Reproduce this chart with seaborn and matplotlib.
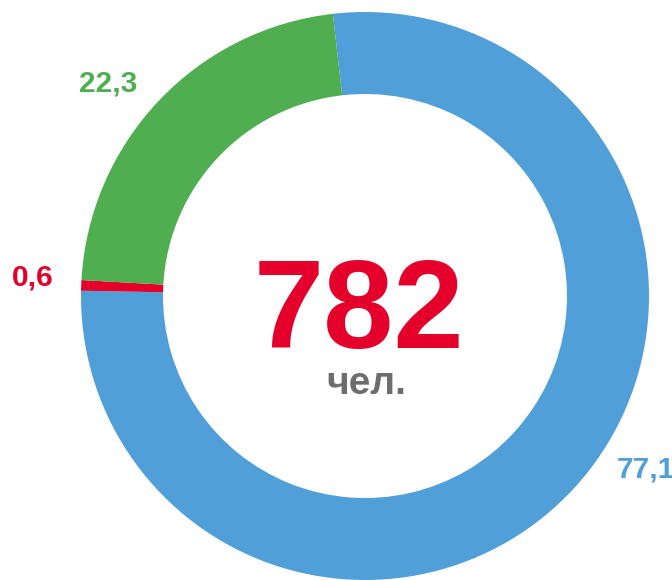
import seaborn as sns
import matplotlib.pyplot as plt

# shares, %
labels = ["77,1", "0,6", "22,3"]
shares = [77.1, 0.6, 22.3]
colors = ["#519fd8", "#e4002b", "#4fae50"]
total = "782"
unit = "чел."

sns.set_theme(style="white")
plt.rcParams["font.family"] = ["Liberation Sans", "DejaVu Sans"]

fig = plt.figure(figsize=(6.72, 5.8), dpi=100)
ax = fig.add_axes([0, 0, 1, 1])
ax.set_xlim(0, 672)
ax.set_ylim(0, 580)
ax.set_aspect("equal")
ax.axis("off")

H = 580
ax.pie(shares, colors=colors, startangle=96.5, counterclock=False,
       center=(365, H - 296), radius=284,
       wedgeprops=dict(width=82, linewidth=0))
ax.set_xlim(0, 672)
ax.set_ylim(0, 580)

# value labels
ax.text(108, H - 83, labels[2], color=colors[2], fontsize=21.5,
        fontweight="bold", ha="center", va="center")
ax.text(33, H - 277, labels[1], color=colors[1], fontsize=21.5,
        fontweight="bold", ha="center", va="center")
ax.text(617, H - 470, labels[0], color=colors[0], fontsize=21.5,
        fontweight="bold", ha="left", va="center")

# centre
ax.text(359, H - 348, total, color="#e4002b", fontsize=91,
        fontweight="bold", ha="center", va="baseline")
ax.text(366, H - 394, unit, color="#6d6d6d", fontsize=28,
        fontweight="bold", ha="center", va="baseline")

plt.savefig("out.png", dpi=100)
plt.close()
